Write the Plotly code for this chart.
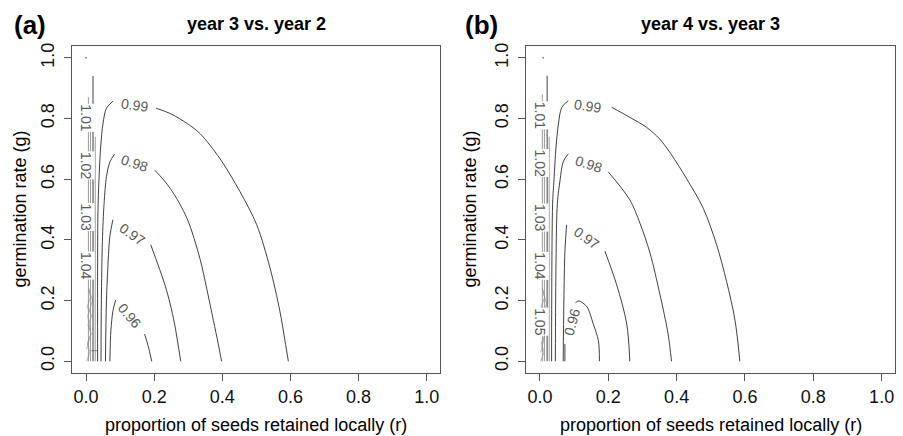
import plotly.graph_objects as go

# ---------------- data ----------------
# Panel (a): year 3 vs. year 2
A_099_LEFT_R = [0.079, 0.060, 0.050, 0.043, 0.038, 0.035, 0.034, 0.034]
A_099_LEFT_G = [0.857, 0.834, 0.785, 0.706, 0.598, 0.493, 0.330, 0.000]
A_099_RIGHT_R = [0.206, 0.250, 0.299, 0.335, 0.393, 0.452, 0.501, 0.540, 0.569, 0.584, 0.594]
A_099_RIGHT_G = [0.834, 0.815, 0.782, 0.750, 0.668, 0.559, 0.450, 0.308, 0.166, 0.068, 0.000]
A_098_LEFT_R = [0.084, 0.070, 0.060, 0.053, 0.048, 0.045, 0.044]
A_098_LEFT_G = [0.683, 0.657, 0.608, 0.520, 0.395, 0.199, 0.000]
A_098_RIGHT_R = [0.202, 0.247, 0.296, 0.335, 0.354, 0.374, 0.388, 0.398]
A_098_RIGHT_G = [0.630, 0.570, 0.472, 0.336, 0.241, 0.134, 0.058, 0.000]
A_097_LEFT_R = [0.079, 0.070, 0.065, 0.060, 0.057]
A_097_LEFT_G = [0.467, 0.412, 0.330, 0.199, 0.000]
A_097_RIGHT_R = [0.190, 0.231, 0.247, 0.260, 0.278]
A_097_RIGHT_G = [0.384, 0.254, 0.189, 0.123, 0.000]
A_096_LEFT_R = [0.087, 0.079, 0.073, 0.070]
A_096_LEFT_G = [0.202, 0.166, 0.101, 0.000]
A_096_RIGHT_R = [0.172, 0.182, 0.193]
A_096_RIGHT_G = [0.090, 0.052, 0.000]
A_TALL_R = [0.0205, 0.0205]
A_TALL_G = [0.940, 0.000]
A_DENSE_R = [0.007, 0.013, 0.027]
A_DENSE_TOP = [0.870, 0.840, 0.740]
A_SCRIBBLE_R = [0.002, 0.011, 0.004, 0.015, 0.006, 0.017, 0.003, 0.013, 0.008, 0.019, 0.005, 0.014, 0.002]
A_SCRIBBLE_G = [0.000, 0.030, 0.060, 0.090, 0.120, 0.150, 0.180, 0.210, 0.240, 0.200, 0.150, 0.090, 0.040]
A_DASH_R = [0.015, 0.035]
A_DASH_G = [0.035, 0.035]
A_DOT_R = [0.000]
A_DOT_G = [1.000]

A_LABELS = ["0.99", "0.98", "0.97", "0.96"]
A_LABEL_R = [0.141, 0.141, 0.135, 0.129]
A_LABEL_G = [0.844, 0.654, 0.421, 0.150]
A_LABEL_ANGLE = [8, 18, 35, 50]
A_SIDE_LABELS = ["1.01", "1.02", "1.03", "1.04"]
A_SIDE_R = [0.000, 0.000, 0.000, 0.000]
A_SIDE_G = [0.804, 0.647, 0.477, 0.317]

# Panel (b): year 4 vs. year 3
B_099_LEFT_R = [0.083, 0.064, 0.054, 0.047, 0.041, 0.037, 0.034]
B_099_LEFT_G = [0.859, 0.837, 0.782, 0.706, 0.598, 0.521, 0.000]
B_099_RIGHT_R = [0.210, 0.263, 0.312, 0.350, 0.383, 0.429, 0.478, 0.517, 0.546, 0.571, 0.585]
B_099_RIGHT_G = [0.837, 0.804, 0.771, 0.733, 0.684, 0.602, 0.504, 0.384, 0.264, 0.134, 0.000]
B_098_LEFT_R = [0.083, 0.068, 0.059, 0.051, 0.047, 0.045]
B_098_LEFT_G = [0.684, 0.657, 0.598, 0.521, 0.330, 0.000]
B_098_RIGHT_R = [0.200, 0.263, 0.293, 0.322, 0.351, 0.375, 0.385]
B_098_RIGHT_G = [0.624, 0.532, 0.454, 0.357, 0.221, 0.090, 0.000]
B_097_LEFT_R = [0.078, 0.073, 0.070, 0.068]
B_097_LEFT_G = [0.450, 0.363, 0.199, 0.000]
B_097_RIGHT_R = [0.190, 0.224, 0.254, 0.263]
B_097_RIGHT_G = [0.363, 0.254, 0.123, 0.000]
B_096_LEFT_R = [0.073, 0.073]
B_096_LEFT_G = [0.057, 0.000]
B_096_RIGHT_R = [0.104, 0.114, 0.137, 0.156, 0.171, 0.174]
B_096_RIGHT_G = [0.193, 0.199, 0.180, 0.123, 0.068, 0.000]
B_TALL_R = [0.021, 0.021]
B_TALL_G = [0.941, 0.000]
B_DENSE_R = [0.007, 0.013, 0.027]
B_DENSE_TOP = [0.880, 0.840, 0.740]
B_SCRIBBLE_R = [0.002, 0.012, 0.004, 0.016, 0.006, 0.018, 0.003, 0.014, 0.007, 0.019, 0.004, 0.013, 0.002]
B_SCRIBBLE_G = [0.000, 0.030, 0.060, 0.090, 0.120, 0.150, 0.180, 0.210, 0.240, 0.190, 0.140, 0.080, 0.030]
B_DOT_R = [0.009]
B_DOT_G = [1.000]

B_LABELS = ["0.99", "0.98", "0.97", "0.96"]
B_LABEL_R = [0.140, 0.141, 0.137, 0.095]
B_LABEL_G = [0.840, 0.649, 0.406, 0.128]
B_LABEL_ANGLE = [8, 18, 35, -75]
B_SIDE_LABELS = ["1.01", "1.02", "1.03", "1.04", "1.05"]
B_SIDE_R = [0.000, 0.000, 0.000, 0.000, 0.000]
B_SIDE_G = [0.809, 0.652, 0.472, 0.313, 0.129]

TITLES = ["year 3 vs. year 2", "year 4 vs. year 3"]
PANEL_TAGS = ["(a)", "(b)"]
X_TITLE = "proportion of seeds retained locally (r)"
Y_TITLE = "germination rate (g)"
TICKS = [0.0, 0.2, 0.4, 0.6, 0.8, 1.0]

# ---------------- styling ----------------
W, H = 903, 436
FONT = "Liberation Sans, Arial, Helvetica, sans-serif"
LINE_COL = "#2b2b2b"
DENSE_COL = "#555555"
LABEL_COL = "#5a5a5a"

XDOM = [[72.4 / W, 440.3 / W], [526.3 / W, 895.3 / W]]
YDOM = [(H - 373) / H, (H - 43) / H]

fig = go.Figure()


def add_line(r, g, axis, color=LINE_COL, width=0.9, smooth=True):
    xa, ya = ("x", "y") if axis == 1 else ("x2", "y2")
    line = dict(color=color, width=width)
    if smooth and len(r) > 2:
        line.update(shape="spline", smoothing=0.9)
    fig.add_trace(go.Scatter(x=r, y=g, mode="lines", xaxis=xa, yaxis=ya,
                             line=line, hoverinfo="skip", showlegend=False))


panels = {
    1: dict(curves=[(A_099_LEFT_R, A_099_LEFT_G), (A_099_RIGHT_R, A_099_RIGHT_G),
                    (A_098_LEFT_R, A_098_LEFT_G), (A_098_RIGHT_R, A_098_RIGHT_G),
                    (A_097_LEFT_R, A_097_LEFT_G), (A_097_RIGHT_R, A_097_RIGHT_G),
                    (A_096_LEFT_R, A_096_LEFT_G), (A_096_RIGHT_R, A_096_RIGHT_G),
                    (A_TALL_R, A_TALL_G)],
            dense_r=A_DENSE_R, dense_top=A_DENSE_TOP,
            scribble=(A_SCRIBBLE_R, A_SCRIBBLE_G), extra=[(A_DASH_R, A_DASH_G)],
            dot=(A_DOT_R, A_DOT_G),
            labels=(A_LABELS, A_LABEL_R, A_LABEL_G, A_LABEL_ANGLE),
            side=(A_SIDE_LABELS, A_SIDE_R, A_SIDE_G)),
    2: dict(curves=[(B_099_LEFT_R, B_099_LEFT_G), (B_099_RIGHT_R, B_099_RIGHT_G),
                    (B_098_LEFT_R, B_098_LEFT_G), (B_098_RIGHT_R, B_098_RIGHT_G),
                    (B_097_LEFT_R, B_097_LEFT_G), (B_097_RIGHT_R, B_097_RIGHT_G),
                    (B_096_LEFT_R, B_096_LEFT_G), (B_096_RIGHT_R, B_096_RIGHT_G),
                    (B_TALL_R, B_TALL_G)],
            dense_r=B_DENSE_R, dense_top=B_DENSE_TOP,
            scribble=(B_SCRIBBLE_R, B_SCRIBBLE_G), extra=[],
            dot=(B_DOT_R, B_DOT_G),
            labels=(B_LABELS, B_LABEL_R, B_LABEL_G, B_LABEL_ANGLE),
            side=(B_SIDE_LABELS, B_SIDE_R, B_SIDE_G)),
}

annotations = []
for k, p in panels.items():
    xa, ya = ("x", "y") if k == 1 else ("x2", "y2")
    for r, top in zip(p["dense_r"], p["dense_top"]):
        add_line([r, r], [top, 0.0], k, color=DENSE_COL, width=0.6)
    add_line(p["scribble"][0], p["scribble"][1], k, color="#8a8a8a", width=0.6, smooth=False)
    for er, eg in p["extra"]:
        add_line(er, eg, k, color=DENSE_COL, width=0.6)
    for r, g in p["curves"]:
        add_line(r, g, k)
    fig.add_trace(go.Scatter(x=p["dot"][0], y=p["dot"][1], mode="markers", xaxis=xa, yaxis=ya,
                             marker=dict(size=2, color="#888"), hoverinfo="skip", showlegend=False))
    txt, lr, lg, la = p["labels"]
    for t, r, g, a in zip(txt, lr, lg, la):
        annotations.append(dict(x=r, y=g, xref=xa, yref=ya, text=t, showarrow=False,
                                textangle=a, font=dict(family=FONT, size=14, color=LABEL_COL)))
    st, sr, sg = p["side"]
    for t, r, g in zip(st, sr, sg):
        annotations.append(dict(x=r, y=g, xref=xa, yref=ya, text=t, showarrow=False,
                                textangle=90, bgcolor="white", borderpad=0,
                                font=dict(family=FONT, size=14, color=LABEL_COL)))

for i in range(2):
    cx = (XDOM[i][0] + XDOM[i][1]) / 2
    annotations.append(dict(x=cx, y=1 - 21 / H, xref="paper", yref="paper", text="<b>%s</b>" % TITLES[i],
                            showarrow=False, xanchor="center", yanchor="middle",
                            font=dict(family=FONT, size=18, color="#000")))
    annotations.append(dict(x=cx, y=1 - 425 / H, xref="paper", yref="paper", text=X_TITLE,
                            showarrow=False, xanchor="center", yanchor="middle",
                            font=dict(family=FONT, size=18, color="#000")))
    annotations.append(dict(x=(20 if i == 0 else 470) / W, y=1 - 208 / H, xref="paper", yref="paper",
                            text=Y_TITLE, textangle=-90, showarrow=False,
                            xanchor="center", yanchor="middle",
                            font=dict(family=FONT, size=18, color="#000")))
    annotations.append(dict(x=(30 if i == 0 else 481) / W, y=1 - 22 / H, xref="paper", yref="paper",
                            text="<b>%s</b>" % PANEL_TAGS[i], showarrow=False,
                            xanchor="center", yanchor="middle",
                            font=dict(family=FONT, size=26, color="#000")))

axis_common = dict(range=[-0.04, 1.04], showgrid=False, zeroline=False, showline=True, mirror=True,
                   linecolor="#555", linewidth=1, ticks="outside", ticklen=7, tickwidth=1,
                   tickcolor="#555", tickvals=TICKS, tickformat=".1f",
                   tickfont=dict(family=FONT, size=18, color="#111"))

fig.update_layout(
    width=W, height=H, margin=dict(l=0, r=0, t=0, b=0),
    paper_bgcolor="white", plot_bgcolor="white", showlegend=False,
    xaxis=dict(domain=XDOM[0], anchor="y", **axis_common),
    yaxis=dict(domain=YDOM, anchor="x", tickangle=-90, ticklabelstandoff=3, **axis_common),
    xaxis2=dict(domain=XDOM[1], anchor="y2", **axis_common),
    yaxis2=dict(domain=YDOM, anchor="x2", tickangle=-90, ticklabelstandoff=3, **axis_common),
    annotations=annotations,
)

fig.write_html("out.html")
